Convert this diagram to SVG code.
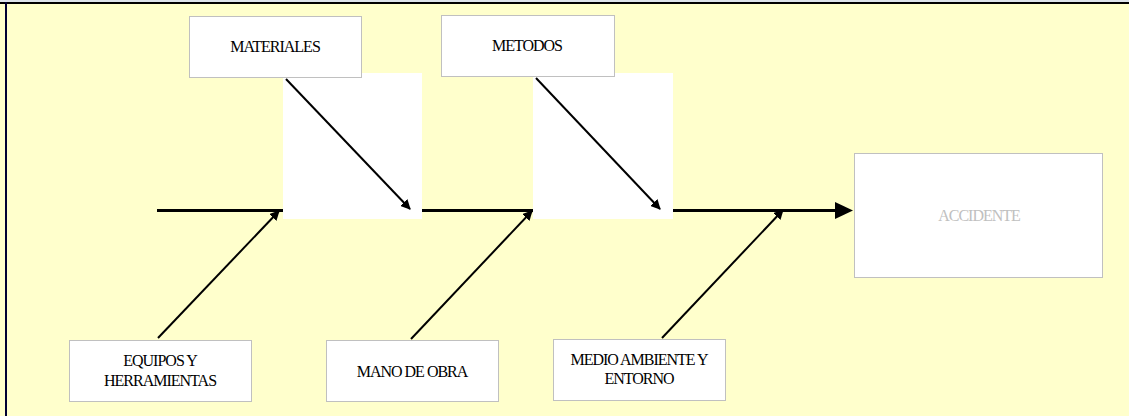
<svg xmlns="http://www.w3.org/2000/svg" width="1129" height="416" viewBox="0 0 1129 416">
<defs>
<style>
.box{fill:#ffffff;stroke:#c0c0c0;stroke-width:1}
.lbl{font-family:"Liberation Serif","Times New Roman",serif;font-size:16px;letter-spacing:-1px;fill:#000;text-anchor:middle}
.gray{fill:#c0c0c0}
.arr{stroke:#000;stroke-width:2;fill:none;marker-end:url(#ah)}
</style>
<marker id="ah" viewBox="0 0 10 10" refX="9" refY="5" markerWidth="5" markerHeight="5" orient="auto" markerUnits="strokeWidth">
<path d="M0,0 L10,5 L0,10 z" fill="#000"/>
</marker>
</defs>
<rect x="0" y="0" width="1129" height="416" fill="#ffffcc"/>
<rect x="0" y="0" width="1129" height="2" fill="#dde3ea"/>
<rect x="0" y="2" width="1129" height="2" fill="#000"/>
<rect x="5" y="2" width="2" height="414" fill="#000033"/>
<g id="connectors">
<line x1="157" y1="210.5" x2="836" y2="210.5" stroke="#000" stroke-width="3"/>
<path d="M835,202 L853,210.5 L835,219 z" fill="#000"/>
<rect x="283" y="73" width="139" height="146" fill="#ffffff"/>
<rect x="533" y="73" width="140" height="146" fill="#ffffff"/>
<line class="arr" x1="286" y1="79" x2="410" y2="209"/>
<line class="arr" x1="536" y1="78" x2="660" y2="209"/>
<line class="arr" x1="158" y1="338" x2="279" y2="211"/>
<line class="arr" x1="411" y1="339" x2="532" y2="211"/>
<line class="arr" x1="662" y1="338" x2="783" y2="210"/>
</g>
<g id="materiales">
<rect class="box" x="189.5" y="16.5" width="172" height="61"/>
<text class="lbl" x="275" y="52">MATERIALES</text>
</g>
<g id="metodos">
<rect class="box" x="441.5" y="15.5" width="173" height="61"/>
<text class="lbl" x="527" y="51">METODOS</text>
</g>
<g id="accidente">
<rect class="box" x="854.5" y="153.5" width="248" height="124"/>
<text class="lbl gray" x="979" y="221">ACCIDENTE</text>
</g>
<g id="equipos">
<rect class="box" x="69.5" y="340.5" width="182" height="61"/>
<text class="lbl" x="160" y="366">EQUIPOS Y</text>
<text class="lbl" x="160" y="386">HERRAMIENTAS</text>
</g>
<g id="mano">
<rect class="box" x="326.5" y="340.5" width="172" height="61"/>
<text class="lbl" x="412" y="377">MANO DE OBRA</text>
</g>
<g id="medio">
<rect class="box" x="553.5" y="339.5" width="172" height="61"/>
<text class="lbl" x="639" y="365">MEDIO AMBIENTE Y</text>
<text class="lbl" x="639" y="384">ENTORNO</text>
</g>
</svg>
